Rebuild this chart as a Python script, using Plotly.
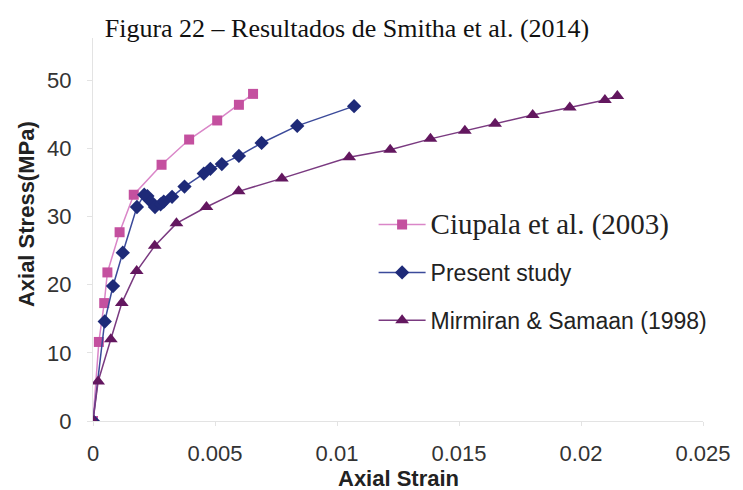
import plotly.graph_objects as go

ciupala_x = [0, 0.00024, 0.00046, 0.00059, 0.00109, 0.00167, 0.00281, 0.00394, 0.00509, 0.00598, 0.00656]
ciupala_y = [0, 11.6, 17.3, 21.8, 27.7, 33.2, 37.6, 41.3, 44.1, 46.4, 48.0]

present_x = [0, 0.00048, 0.00082, 0.00122, 0.0018, 0.0021, 0.00223, 0.00237, 0.00254, 0.00277, 0.0029,
             0.00324, 0.00375, 0.00454, 0.00481, 0.00528, 0.00598, 0.00691, 0.00837, 0.0107]
present_y = [0, 14.6, 19.8, 24.7, 31.4, 33.2, 33.0, 32.2, 31.4, 31.8, 32.2,
             32.9, 34.4, 36.3, 37.0, 37.7, 38.9, 40.8, 43.3, 46.2]

mirmiran_x = [0, 0.00021, 0.00073, 0.00118, 0.00179, 0.00253, 0.00342, 0.00465, 0.00597, 0.00774, 0.0105,
              0.01218, 0.01383, 0.01524, 0.01648, 0.01802, 0.01954, 0.02098, 0.02149]
mirmiran_y = [0, 5.8, 12.0, 17.3, 22.0, 25.7, 29.0, 31.4, 33.7, 35.6, 38.7,
              39.8, 41.4, 42.6, 43.6, 44.9, 46.0, 47.1, 47.7]

x_ticks = [0, 0.005, 0.01, 0.015, 0.02, 0.025]
x_labels = ["0", "0.005", "0.01", "0.015", "0.02", "0.025"]
y_ticks = [0, 10, 20, 30, 40, 50]

SANS = "Liberation Sans, Arial"
SERIF = "Liberation Serif, Times New Roman"

fig = go.Figure()
fig.add_trace(go.Scatter(
    x=ciupala_x, y=ciupala_y, mode="lines+markers",
    name='<span style="font-family:Liberation Serif;font-size:29px">Ciupala et al. (2003)</span>',
    line=dict(color="#DA86C8", width=1.5),
    marker=dict(symbol="square", size=10, color="#C4509F"),
    legendgroup="a"))
fig.add_trace(go.Scatter(
    x=present_x, y=present_y, mode="lines+markers", name="Present study",
    line=dict(color="#3B4A9A", width=1.5),
    marker=dict(symbol="diamond", size=11, color="#1E2A78"),
    legendgroup="b"))
fig.add_trace(go.Scatter(
    x=mirmiran_x, y=mirmiran_y, mode="lines+markers", name="Mirmiran &amp; Samaan (1998)",
    line=dict(color="#7A3A80", width=1.5),
    marker=dict(symbol="triangle-up", size=12, color="#63175F"),
    legendgroup="c"))

tick_font = dict(family=SANS, size=22, color="#333")
fig.update_layout(
    width=743, height=490,
    margin=dict(l=93, r=30, t=38, b=69),
    paper_bgcolor="white", plot_bgcolor="white",
    showlegend=True,
    title=dict(text="Figura 22 – Resultados de Smitha et al. (2014)",
               font=dict(family=SERIF, size=26, color="#111"),
               x=0.467, xanchor="center", y=1 - 28 / 490, yanchor="middle"),
    legend=dict(x=0.46, y=0.569, xanchor="left", yanchor="top",
                font=dict(family=SANS, size=23, color="#222"),
                tracegroupgap=15, itemwidth=47, bgcolor="rgba(0,0,0,0)"),
    xaxis=dict(range=[0, 0.025], tickvals=x_ticks, ticktext=x_labels,
               showgrid=False, zeroline=False, showline=True, linecolor="#e3e3e3",
               ticks="outside", ticklen=4, tickcolor="#e3e3e3",
               tickfont=tick_font, ticklabelstandoff=9),
    yaxis=dict(range=[0, 56.2], tickvals=y_ticks,
               showgrid=False, zeroline=False, showline=True, linecolor="#e3e3e3",
               ticks="outside", ticklen=5, tickcolor="#e3e3e3",
               tickfont=tick_font, ticklabelstandoff=11),
    annotations=[
        dict(text="<b>Axial Strain</b>", xref="paper", yref="paper", x=0.5, y=(421 - 478) / 383,
             xanchor="center", yanchor="middle", showarrow=False,
             font=dict(family=SANS, size=22, color="#222")),
        dict(text="<b>Axial Stress(MPa)</b>", xref="paper", yref="paper", x=(25 - 93) / 620,
             y=(421 - 214) / 383, xanchor="center", yanchor="middle", textangle=-90,
             showarrow=False, font=dict(family=SANS, size=22, color="#222")),
    ],
)

fig.write_html("out.html")
